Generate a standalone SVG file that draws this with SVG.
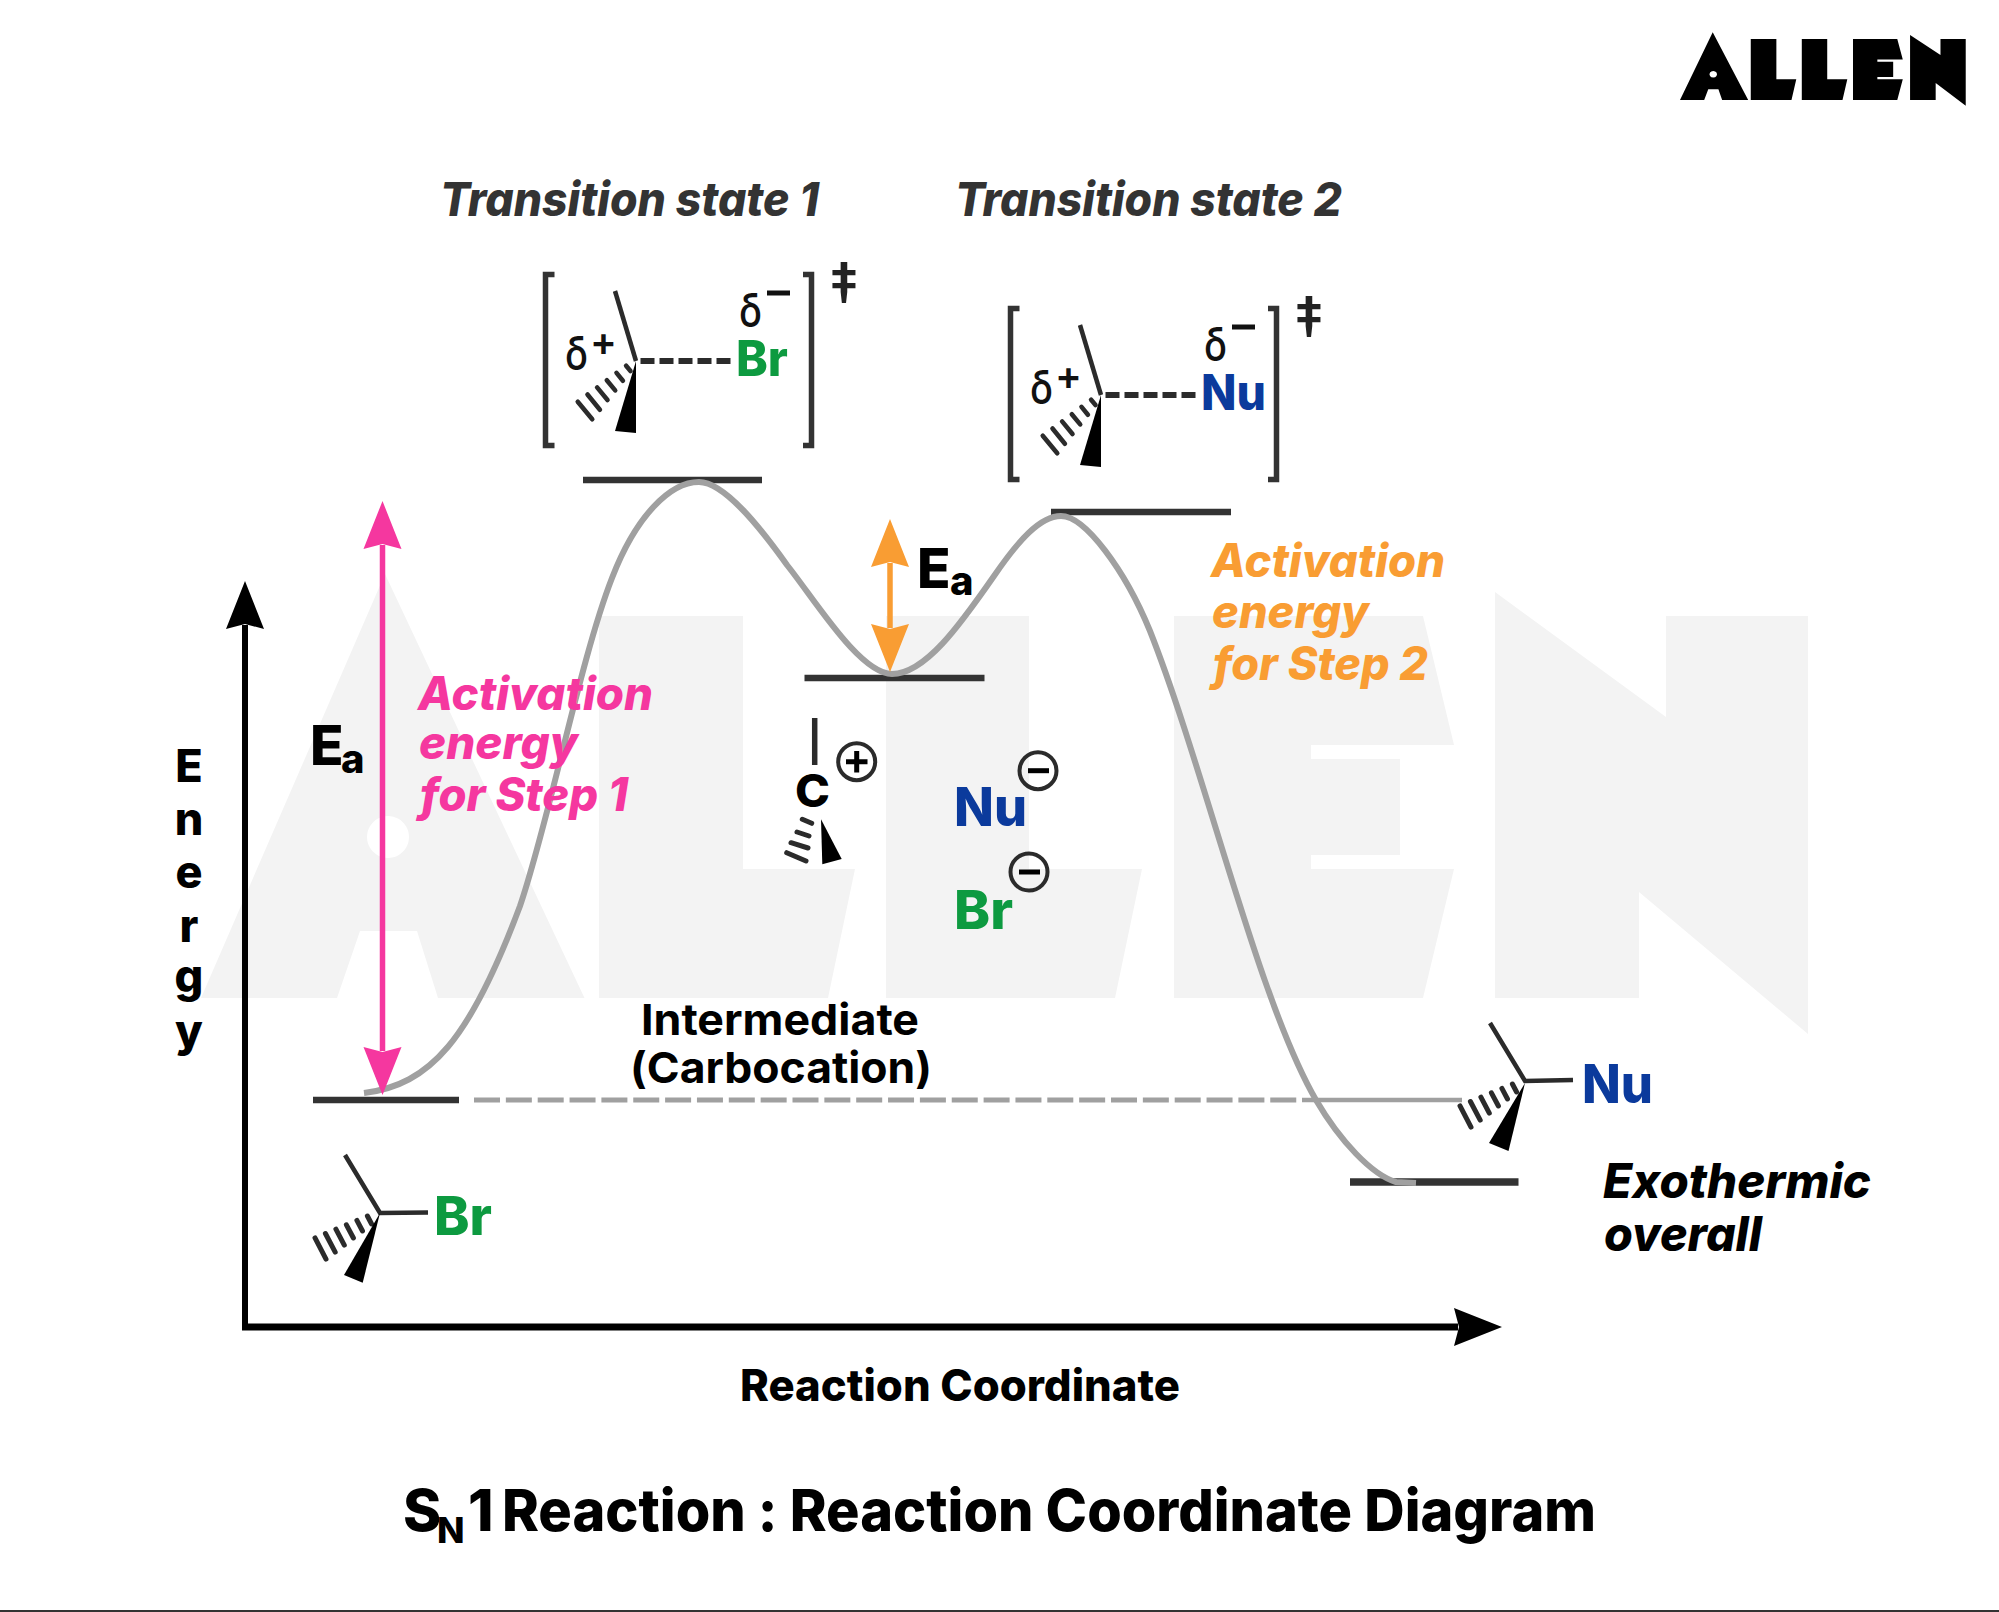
<svg xmlns="http://www.w3.org/2000/svg" xmlns:xlink="http://www.w3.org/1999/xlink" width="1999" height="1612" viewBox="0 0 1999 1612">
<style>
text{font-family:"Inter","Liberation Sans",sans-serif;font-weight:800;font-feature-settings:"calt" 0}
.i{font-style:italic}
.dk{fill:#000}
.ts{fill:#333;font-size:47px;font-style:italic}
.pink{fill:#f5379f;font-size:46px;font-style:italic}
.org{fill:#f99d33;font-size:46px;font-style:italic}
.grn{fill:#0d9a40}
.blu{fill:#0b3a9c}
.d{font-weight:500;font-size:46px;fill:#111}
.level{stroke:#333;stroke-width:6.5;fill:none}
.curve{stroke:#a0a0a0;stroke-width:6;fill:none}
.bond{stroke:#2b2b2b;stroke-width:4.5;fill:none;stroke-linecap:butt}
.hash{stroke:#2b2b2b;stroke-width:5;fill:none;stroke-linecap:round}
.chg{fill:#fff;fill-opacity:0;stroke:#2b2b2b;stroke-width:4}
.sign{stroke:#000;stroke-width:5;fill:none}
.br{stroke:#333;stroke-width:5.5;fill:none}
</style>
<defs>
<g id="mark">
<path fill-rule="evenodd" d="M385 574L584.5 998H438L417 931H360L337 998H201ZM388 816a21 21 0 1 0 .01 0Z"/>
<path d="M599 616H743V869H855L828 998H599Z"/>
<path d="M886 616H1029V869H1142L1115 998H886Z"/>
<path d="M1174 616H1423L1454 745H1311V759H1400V855H1311V869H1454L1423 998H1174Z"/>
<path d="M1495 592L1666 717V616H1808V1034L1639 892V998H1495Z"/>
</g>
<g id="hashA" class="hash">
<path d="M-65 24.9L-54 46.1M-54.6 20.5L-44.8 39.1M-44.1 16.1L-35.7 32.1M-33.6 11.8L-26.6 25M-23.1 7.4L-17.5 18M-12.6 3L-8.4 11"/>
</g>
<g id="hashB" class="hash" style="stroke-width:4.6">
<path d="M-58.25 40.7L-43.75 58.3M-48.5 33.5L-36.1 48.7M-38.9 26.4L-28.5 39M-29.2 19.2L-20.8 29.4M-19.5 11.9L-13.1 19.7M-9.9 4.8L-5.5 10"/>
</g>
<g id="ts">
<path class="br" d="M554.5 274.5H545.5V445.5H554.5M803 274.5H811.5V445.5H803"/>
<path class="bond" d="M615 291L636 361"/>
<path d="M640.5 361H733" stroke="#2b2b2b" stroke-width="6" stroke-dasharray="14 5" fill="none"/>
<use xlink:href="#hashB" href="#hashB" x="636" y="361"/>
<path d="M636 361L615 431L636 433Z" fill="#000"/>
<text class="d" x="565" y="370" textLength="23" lengthAdjust="spacingAndGlyphs">δ</text>
<text x="590" y="356" font-size="40" style="font-weight:600" fill="#111">+</text>
<text class="d" x="739" y="327" textLength="23" lengthAdjust="spacingAndGlyphs">δ</text>
<path d="M767 293H790" stroke="#111" stroke-width="5"/>
<text x="844" y="303" font-size="56" style="font-weight:600" text-anchor="middle" fill="#222">‡</text>
</g>
<marker id="hPink" markerUnits="userSpaceOnUse" markerWidth="60" markerHeight="60" refX="4" refY="30" orient="auto-start-reverse" viewBox="0 0 60 60"><path d="M48 30L0 11L5 30L0 49Z" fill="#f5379f"/></marker>
<marker id="hOrg" markerUnits="userSpaceOnUse" markerWidth="60" markerHeight="60" refX="4" refY="30" orient="auto-start-reverse" viewBox="0 0 60 60"><path d="M48 30L0 11L5 30L0 49Z" fill="#f99d33"/></marker>
<marker id="hBlk" markerUnits="userSpaceOnUse" markerWidth="60" markerHeight="60" refX="4" refY="30" orient="auto" viewBox="0 0 60 60"><path d="M48 30L0 11L5 30L0 49Z" fill="#000"/></marker>
</defs>
<rect width="1999" height="1612" fill="#fff"/>
<g id="watermark"><use xlink:href="#mark" href="#mark" fill="#f3f3f3"/></g>
<g id="logo"><use xlink:href="#mark" href="#mark" fill="#000" transform="translate(1680 100) scale(.1778 .16) translate(-201 -998)"/></g>

<g id="connectors">
<path class="level" d="M313 1100H459M583 480H762M804.5 678H984.5M1051 512H1231"/>
<path class="level" d="M1350 1182H1518.5" style="stroke-width:7.5"/>
<path d="M474 1100H1302" stroke="#a0a0a0" stroke-width="5" stroke-dasharray="26 5.85" fill="none"/>
<path d="M1302 1100H1462" stroke="#a0a0a0" stroke-width="4.5" fill="none"/>
<path id="energy-curve" class="curve" d="M364 1093C430 1085 470 1040 520 906C550 818 580 660 612 578C636 516 670 482 699 482C725 482 762 530 787 565C815 600 860 674 892 674C925 674 960 625 994 576C1018 541 1040 516 1061 516C1085 516 1125 570 1150 631C1205 770 1258 1000 1316 1100C1340 1141 1372 1175 1396 1182L1416 1183"/>
<path d="M382.5 545V1051" stroke="#f5379f" stroke-width="5.5" fill="none" marker-start="url(#hPink)" marker-end="url(#hPink)"/>
<path d="M890 563V628" stroke="#f99d33" stroke-width="5.5" fill="none" marker-start="url(#hOrg)" marker-end="url(#hOrg)"/>
<path d="M245 1330V625" stroke="#000" stroke-width="6" fill="none" marker-end="url(#hBlk)"/>
<path d="M242 1327H1458" stroke="#000" stroke-width="7" fill="none" marker-end="url(#hBlk)"/>
</g>

<g id="ts1-label"><text class="ts" x="440" y="216" textLength="379" lengthAdjust="spacingAndGlyphs">Transition state 1</text></g>
<g id="ts2-label"><text class="ts" x="955" y="216" textLength="387" lengthAdjust="spacingAndGlyphs">Transition state 2</text></g>

<g id="ts1"><use xlink:href="#ts" href="#ts"/><text class="grn" x="736" y="376" font-size="49" textLength="52" lengthAdjust="spacingAndGlyphs">Br</text></g>
<g id="ts2"><use xlink:href="#ts" href="#ts" transform="translate(465 34)"/><text class="blu" x="1201" y="410" font-size="49" textLength="65" lengthAdjust="spacingAndGlyphs">Nu</text></g>

<g id="reactant">
<path class="bond" d="M345 1155L380 1213L428 1212.5"/>
<use xlink:href="#hashA" href="#hashA" x="380" y="1213"/>
<path d="M380 1213L344 1275L362.7 1282.7Z" fill="#000"/>
<text class="grn" x="434" y="1235" font-size="53" textLength="58" lengthAdjust="spacingAndGlyphs">Br</text>
</g>
<g id="product">
<path class="bond" d="M1490 1023L1525 1081L1573 1080"/>
<use xlink:href="#hashA" href="#hashA" x="1525" y="1081"/>
<path d="M1525 1083L1489 1143L1508.5 1151Z" fill="#000"/>
<text class="blu" x="1582" y="1103" font-size="54" textLength="71" lengthAdjust="spacingAndGlyphs">Nu</text>
</g>

<g id="carbocation">
<path d="M814.7 718V765" stroke="#2b2b2b" stroke-width="5.5"/>
<text class="dk" x="795" y="807" font-size="45" textLength="35" lengthAdjust="spacingAndGlyphs">C</text>
<circle class="chg" cx="856.7" cy="761.7" r="18.5"/>
<path class="sign" d="M846 761.7H867.5M856.7 751V772.5"/>
<path d="M802.3 819.3L811.7 823.3M797 832L809 836M791 842.7L808 848M786.7 852.7L806 861" class="hash"/>
<path d="M821 819.3L841.7 859L822.3 864.3Z" fill="#000"/>
</g>
<g id="nu-ion">
<text class="blu" x="954" y="826" font-size="53" textLength="73" lengthAdjust="spacingAndGlyphs">Nu</text>
<circle class="chg" cx="1038" cy="770.7" r="18.5"/>
<path class="sign" d="M1028 770.7H1049"/>
</g>
<g id="br-ion">
<text class="grn" x="954" y="929" font-size="53" textLength="59" lengthAdjust="spacingAndGlyphs">Br</text>
<circle class="chg" cx="1029" cy="872" r="18.5"/>
<path class="sign" d="M1019 872H1040"/>
</g>

<g id="step1-label">
<text class="pink" x="418" y="710" textLength="235" lengthAdjust="spacingAndGlyphs">Activation</text>
<text class="pink" x="419" y="759" textLength="159" lengthAdjust="spacingAndGlyphs">energy</text>
<text class="pink" x="420" y="811" textLength="208" lengthAdjust="spacingAndGlyphs">for Step 1</text>
</g>
<g id="step2-label">
<text class="org" x="1211" y="577" textLength="234" lengthAdjust="spacingAndGlyphs">Activation</text>
<text class="org" x="1212" y="628" textLength="157" lengthAdjust="spacingAndGlyphs">energy</text>
<text class="org" x="1213" y="680" textLength="215" lengthAdjust="spacingAndGlyphs">for Step 2</text>
</g>
<g id="ea1"><text class="dk" x="310" y="765" font-size="55">E<tspan x="341" y="773" font-size="40">a</tspan></text></g>
<g id="ea2"><text class="dk" x="917" y="588" font-size="55">E<tspan x="950" y="595" font-size="40">a</tspan></text></g>

<g id="axis-y-label"><text class="dk" font-size="45" text-anchor="middle"><tspan x="189" y="782">E</tspan><tspan x="189" y="835">n</tspan><tspan x="189" y="888">e</tspan><tspan x="189" y="942">r</tspan><tspan x="189" y="992">g</tspan><tspan x="189" y="1047">y</tspan></text></g>
<g id="axis-x-label"><text class="dk" x="740" y="1401" font-size="44" textLength="440" lengthAdjust="spacingAndGlyphs">Reaction Coordinate</text></g>
<g id="intermediate-label">
<text class="dk" x="641" y="1035" font-size="43" textLength="278" lengthAdjust="spacingAndGlyphs" style="font-weight:700">Intermediate</text>
<text class="dk" x="630" y="1083" font-size="43" textLength="302" lengthAdjust="spacingAndGlyphs" style="font-weight:700">(Carbocation)</text>
</g>
<g id="exothermic-label">
<text class="dk i" x="1603" y="1198" font-size="48" textLength="268" lengthAdjust="spacingAndGlyphs">Exothermic</text>
<text class="dk i" x="1604" y="1251" font-size="48" textLength="158" lengthAdjust="spacingAndGlyphs">overall</text>
</g>
<g id="title">
<text class="dk" x="403" y="1531" font-size="58">S</text>
<text class="dk" x="437" y="1543" font-size="36">N</text>
<text class="dk" x="468" y="1531" font-size="58">1</text>
<text class="dk" x="502" y="1531" font-size="58" textLength="1094" lengthAdjust="spacingAndGlyphs">Reaction : Reaction Coordinate Diagram</text>
</g>
<rect id="bottom-rule" x="0" y="1610" width="1999" height="2" fill="#333"/>
</svg>
